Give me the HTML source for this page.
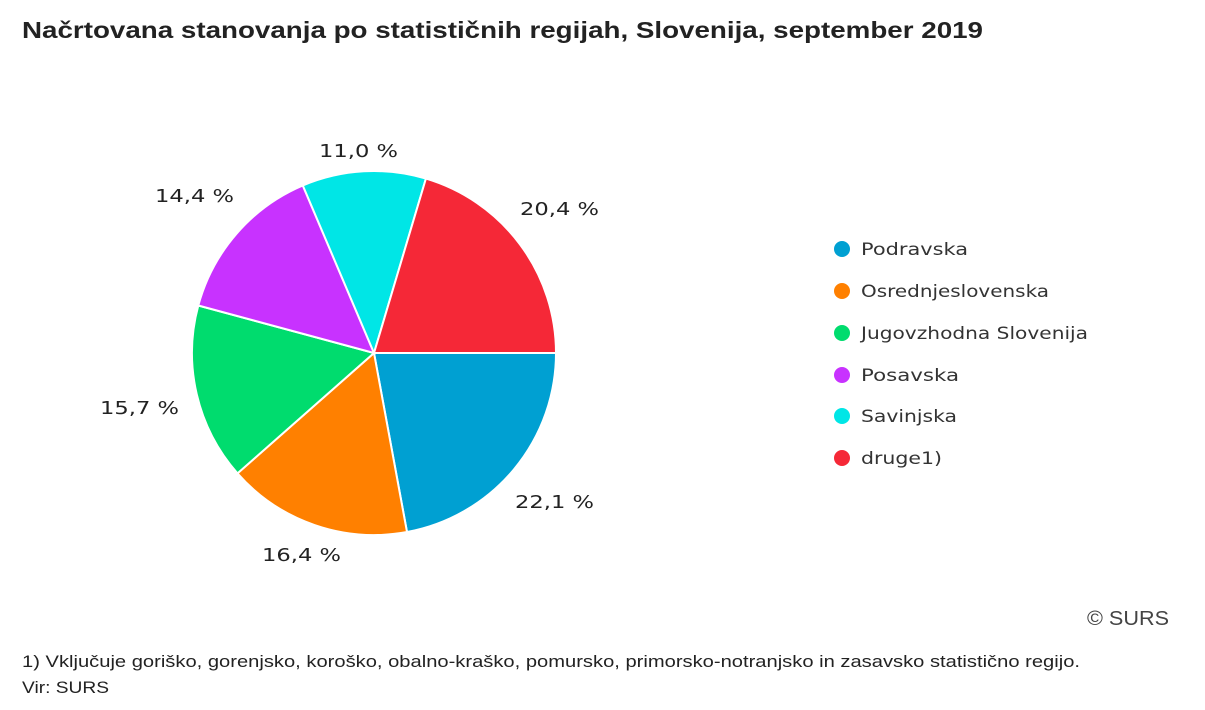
<!DOCTYPE html>
<html><head><meta charset="utf-8"><style>
body{margin:0;background:#fff;width:1205px;height:710px;overflow:hidden;}
</style></head><body>
<svg width="1205" height="710" style="position:absolute;left:0;top:0" font-family="DejaVu Sans, sans-serif">
<text x="22" y="38" font-family="Liberation Sans, sans-serif" font-weight="bold" font-size="23" fill="#222" textLength="961" lengthAdjust="spacingAndGlyphs">Načrtovana stanovanja po statističnih regijah, Slovenija, september 2019</text>
<g stroke="#fff" stroke-width="2">
<path d="M374 353 L556 353 A182 182 0 0 1 407 532 Z" fill="#00a0d2"/>
<path d="M374 353 L407 532 A182 182 0 0 1 237.5 473.4 Z" fill="#ff8000"/>
<path d="M374 353 L237.5 473.4 A182 182 0 0 1 198.3 305.5 Z" fill="#00dc6e"/>
<path d="M374 353 L198.3 305.5 A182 182 0 0 1 302.8 185.5 Z" fill="#c832ff"/>
<path d="M374 353 L302.8 185.5 A182 182 0 0 1 425.9 178.6 Z" fill="#00e6e6"/>
<path d="M374 353 L425.9 178.6 A182 182 0 0 1 556 353 Z" fill="#f52837"/>
</g>
<g font-size="18" fill="#222">
<text x="515" y="508" textLength="79" lengthAdjust="spacingAndGlyphs">22,1 %</text>
<text x="262" y="561" textLength="79" lengthAdjust="spacingAndGlyphs">16,4 %</text>
<text x="100" y="414" textLength="79" lengthAdjust="spacingAndGlyphs">15,7 %</text>
<text x="155" y="202" textLength="79" lengthAdjust="spacingAndGlyphs">14,4 %</text>
<text x="319" y="157" textLength="79" lengthAdjust="spacingAndGlyphs">11,0 %</text>
<text x="520" y="215" textLength="79" lengthAdjust="spacingAndGlyphs">20,4 %</text>
</g>
<g font-size="17" fill="#333">
<circle cx="842" cy="249" r="8" fill="#00a0d2"/><text x="861" y="255" textLength="107" lengthAdjust="spacingAndGlyphs">Podravska</text>
<circle cx="842" cy="291" r="8" fill="#ff8000"/><text x="861" y="297" textLength="188" lengthAdjust="spacingAndGlyphs">Osrednjeslovenska</text>
<circle cx="842" cy="333" r="8" fill="#00dc6e"/><text x="861" y="339" textLength="227" lengthAdjust="spacingAndGlyphs">Jugovzhodna Slovenija</text>
<circle cx="842" cy="375" r="8" fill="#c832ff"/><text x="861" y="381" textLength="98" lengthAdjust="spacingAndGlyphs">Posavska</text>
<circle cx="842" cy="416" r="8" fill="#00e6e6"/><text x="861" y="422" textLength="96" lengthAdjust="spacingAndGlyphs">Savinjska</text>
<circle cx="842" cy="458" r="8" fill="#f52837"/><text x="861" y="464" textLength="81" lengthAdjust="spacingAndGlyphs">druge1)</text>
</g>
<text x="1087" y="625" font-family="Liberation Sans, sans-serif" font-size="20" fill="#444" textLength="82" lengthAdjust="spacingAndGlyphs">© SURS</text>
<g font-family="Liberation Sans, sans-serif" font-size="17" fill="#222">
<text x="22" y="667" textLength="1058" lengthAdjust="spacingAndGlyphs">1) Vključuje goriško, gorenjsko, koroško, obalno-kraško, pomursko, primorsko-notranjsko in zasavsko statistično regijo.</text>
<text x="22" y="693" textLength="87" lengthAdjust="spacingAndGlyphs">Vir: SURS</text>
</g>
</svg>
</body></html>
